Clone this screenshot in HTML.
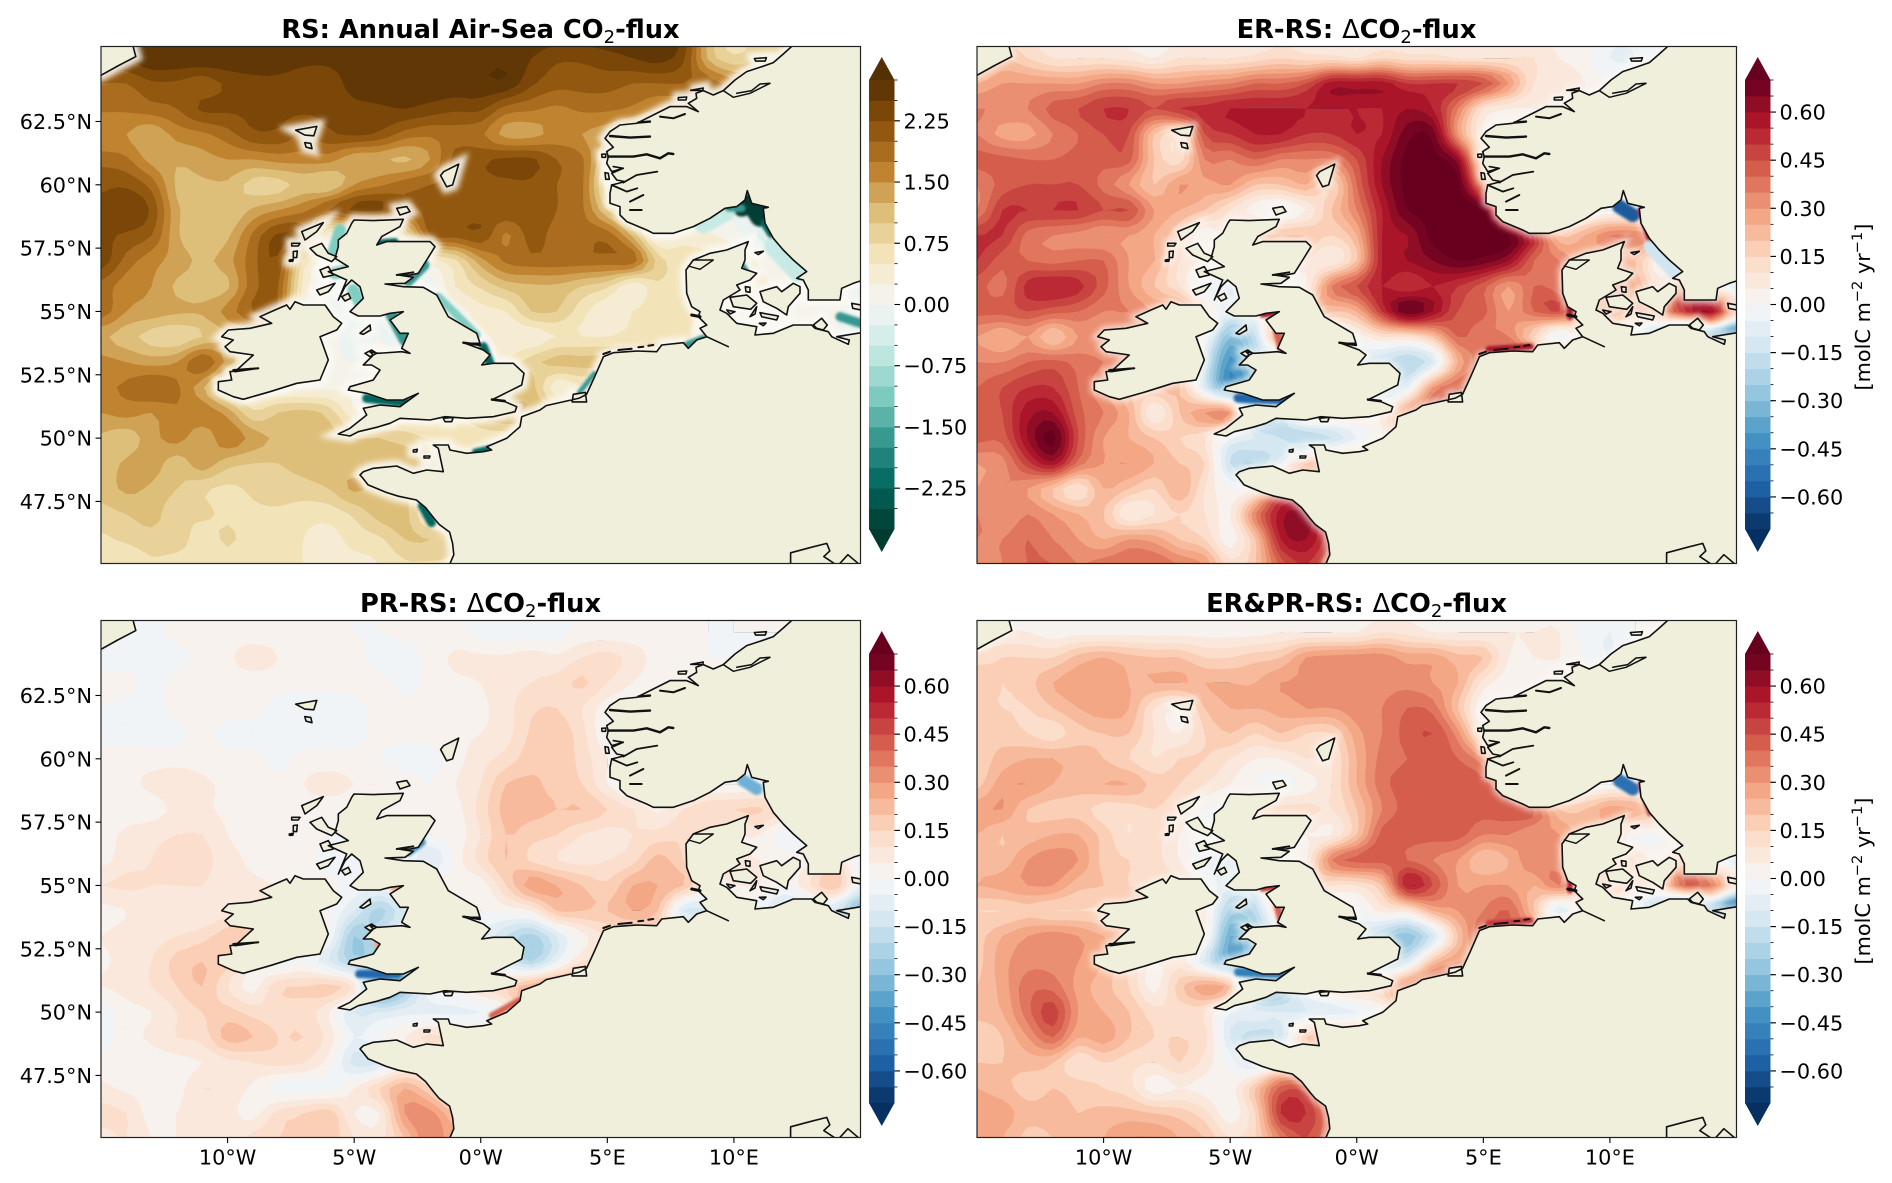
<!DOCTYPE html>
<html lang="en">
<head>
<meta charset="utf-8">
<title>Annual Air-Sea CO2-flux maps</title>
<style>
html,body{margin:0;padding:0;background:#fff}
svg{display:block}
text{font-family:"DejaVu Sans","Liberation Sans",sans-serif;fill:#000}
.title{font-size:25.7px;font-weight:bold;text-anchor:middle}
.thin{font-weight:normal}
.tick{font-size:20.8px}
</style>
</head>
<body>
<svg id="chart" xmlns="http://www.w3.org/2000/svg" width="1892" height="1183" viewBox="0 0 1892 1183">
<defs>
<filter id="soft1" x="-10%" y="-10%" width="120%" height="120%"><feGaussianBlur stdDeviation="1.4"/></filter>
<filter id="soft4" x="-10%" y="-10%" width="120%" height="120%"><feGaussianBlur stdDeviation="3"/></filter>
</defs>
<rect width="1892" height="1183" fill="#fff"/>
<text class="title" x="480.5" y="38">RS: Annual Air-Sea CO<tspan dy="5" font-size="18" class="thin">2</tspan><tspan dy="-5">-flux</tspan></text>
<text class="title" x="1356.5" y="38">ER-RS: <tspan class="thin">Δ</tspan>CO<tspan dy="5" font-size="18" class="thin">2</tspan><tspan dy="-5">-flux</tspan></text>
<text class="title" x="480.5" y="612">PR-RS: <tspan class="thin">Δ</tspan>CO<tspan dy="5" font-size="18" class="thin">2</tspan><tspan dy="-5">-flux</tspan></text>
<text class="title" x="1356.5" y="612">ER&amp;PR-RS: <tspan class="thin">Δ</tspan>CO<tspan dy="5" font-size="18" class="thin">2</tspan><tspan dy="-5">-flux</tspan></text>
<text class="tick" text-anchor="middle" transform="translate(1870 307) rotate(-90)">[molC m<tspan dy="-8" font-size="14.6">−2</tspan><tspan dy="8"> yr</tspan><tspan dy="-8" font-size="14.6">−1</tspan><tspan dy="8">]</tspan></text>
<text class="tick" text-anchor="middle" transform="translate(1870 881) rotate(-90)">[molC m<tspan dy="-8" font-size="14.6">−2</tspan><tspan dy="8"> yr</tspan><tspan dy="-8" font-size="14.6">−1</tspan><tspan dy="8">]</tspan></text>
<g id="layers"></g>
</svg>
<script>
const lons=[-15,-14,-13,-12,-11,-10,-9,-8,-7,-6,-5,-4,-3,-2,-1,0,1,2,3,4,5,6,7,8,9,10,11,12,13,14,15];
const lats=[66,65,64,63,62,61,60,59,58,57,56,55,54,53,52,51,50,49,48,47,46,45];
const latTicks=[62.5,60,57.5,55,52.5,50,47.5];
const latTickLabels=["62.5°N","60°N","57.5°N","55°N","52.5°N","50°N","47.5°N"];
const lonTicks=[-10,-5,0,5,10];
const lonTickLabels=["10°W","5°W","0°W","5°E","10°E"];
const fluxLevels=[-2.75,-2.5,-2.25,-2,-1.75,-1.5,-1.25,-1,-.75,-.5,-.25,0,.25,.5,.75,1,1.25,1.5,1.75,2,2.25,2.5,2.75];
const fluxTicks=[2.25,1.5,.75,0,-.75,-1.5,-2.25];
const fluxTickLabels=["2.25","1.50","0.75","0.00","−0.75","−1.50","−2.25"];
const deltaLevels=[-.7,-.65,-.6,-.55,-.5,-.45,-.4,-.35,-.3,-.25,-.2,-.15,-.1,-.05,0,.05,.1,.15,.2,.25,.3,.35,.4,.45,.5,.55,.6,.65,.7];
const deltaTicks=[.6,.45,.3,.15,0,-.15,-.3,-.45,-.6];
const deltaTickLabels=["0.60","0.45","0.30","0.15","0.00","−0.15","−0.30","−0.45","−0.60"];

const rsFlux=[
[2.3,2.4,2.6,2.7,2.7,2.7,2.7,2.7,2.7,2.7,2.7,2.7,2.7,2.7,2.7,2.7,2.7,2.7,2.7,2.7,2.7,2.7,2.7,2.5,1.2,.6,.8,1,1,1,1],
[2.4,2.5,2.7,2.7,2.7,2.7,2.7,2.7,2.6,2.6,2.7,2.7,2.7,2.7,2.7,2.7,2.7,2.5,2.3,2.3,2.4,2.5,2.6,2.3,1.2,.8,1,1,1,1,1],
[2,2,2.2,2.2,2.1,2.3,2.4,2.4,2.3,2.3,2.65,2.7,2.7,2.7,2.7,2.7,2.7,2.3,2.1,2.1,2.1,2,2,2,1.9,1.6,1.5,1.5,1.5,1.5,1.5],
[1.8,1.8,1.9,2,2.3,2.3,2.3,2.3,2.3,2.3,2.4,2.45,2.5,2.4,2.3,2.3,1.9,1.8,1.7,1.8,1.8,1.7,1.5,1.5,1.5,1.5,1.5,1.5,1.5,1.5,1.5],
[1.5,1.5,1.3,1.6,1.7,1.9,2.2,2.2,2,2.2,2.3,2.2,1.9,1.8,1.9,1.8,1.4,1.4,1.6,1.5,1.3,1,1,1,1,1,1,1,1,1,1],
[1.9,1.8,1.4,1.3,1.4,1.5,1.5,1.6,1.6,1.6,1.3,1.3,1.2,1.5,2.1,2.2,2.3,2.3,2,1.8,.9,.6,.6,.6,.6,.6,.6,.6,.6,.6,.6],
[2.2,2.2,1.9,1.2,1.2,1.2,.9,.9,1.1,1,1.5,1.7,1.9,2,2.1,2.2,2.2,2.2,2,1.8,.6,.4,.4,.4,.4,.4,.4,.4,.4,.4,.4],
[2.3,2.5,2.2,1.3,1.1,1,1.3,1.5,1.7,2,2.3,2.3,1.9,2.1,2.1,2.2,2.2,2.2,2,1.8,1,.5,.2,0,0,0,0,0,0,0,0],
[2.3,2.2,2,1.3,1,1.2,1.8,2.3,2,.3,.3,.3,.7,2,2.1,2.2,1.7,2.1,1.9,1.9,1.9,1.2,.2,.4,.3,.1,-.3,-.5,-.5,-.5,-.5],
[2.4,1.9,1.6,1.4,1.2,1.4,1.9,2.2,.7,.1,.1,.1,.2,.4,.7,1.4,1.8,1.9,1.9,1.9,1.9,1.9,.9,.6,.6,.5,.2,0,-.1,-.1,-.1],
[1.9,1.6,1.5,1.2,1.1,1.2,1.9,2,.4,0,-.1,0,0,-.1,.5,.8,1.1,1.2,1.2,1,.8,.3,.7,.6,.5,.5,.3,.2,.2,.1,-.1],
[1.9,1.5,1.4,1.3,1.3,1.6,2,1.9,.3,0,0,0,0,0,.1,.4,.5,1,1,.6,.3,.5,.7,.7,.3,.3,.2,.2,.2,.1,-.2],
[1.3,1.1,.9,.8,1,1.2,1.2,1,.6,.1,-.1,0,-.2,-.1,0,.2,.3,.3,.5,.5,.5,.6,.7,.6,.2,.2,.2,.1,.1,0,-.4],
[1.6,1.5,1.4,1.5,2,1.4,.9,.6,.3,.1,0,.1,.1,0,0,0,.5,.9,1.1,1.1,1.1,1,.9,.8,.5,.5,.5,.5,.5,.5,.5],
[1.7,1.8,2,1.8,1.3,.6,.5,.3,.2,.2,.2,.2,.1,.1,0,.3,.9,1.1,.3,.5,.5,.5,.5,.5,.5,.5,.5,.5,.5,.5,.5],
[1.5,1.6,1.5,1.7,1.7,1.4,.8,1,1.1,.9,.3,.1,.3,.4,.5,1,1.3,1.2,1,1,1,1,1,1,1,1,1,1,1,1,1],
[1.2,1.1,1.4,1.6,1.3,1.7,1.4,1.2,1.2,1.1,1,1,.9,.7,.6,.6,.6,.6,.6,.6,.6,.6,.6,.6,.6,.6,.6,.6,.6,.6,.6],
[1.1,1.3,1.4,1.1,1.4,1.1,1,1,1.1,1.2,1.1,1,1.1,1.2,1,1,1,1,1,1,1,1,1,1,1,1,1,1,1,1,1],
[1.1,1.3,1.2,1,.8,.7,.8,.9,.9,1,1.3,1.1,1,1,1,1,1,1,1,1,1,1,1,1,1,1,1,1,1,1,1],
[.9,1,1.1,.8,.8,.7,.7,.7,.6,.6,.8,1.1,1.1,.4,.4,.4,.4,.4,.4,.4,.4,.4,.4,.4,.4,.4,.4,.4,.4,.4,.4],
[.7,.8,.9,.9,.6,.8,.6,.7,.5,.4,.6,.7,1,1,.8,.8,.8,.8,.8,.8,.8,.8,.8,.8,.8,.8,.8,.8,.8,.8,.8],
[.6,.5,.7,.6,.6,.6,.6,.5,.5,.4,.4,.5,.7,.7,.7,.7,.7,.7,.7,.7,.7,.7,.7,.7,.7,.7,.7,.7,.7,.7,.7]
];
const erDelta=[
[.1,.15,.1,.08,.08,.08,.05,.03,.05,.05,.05,.05,.08,.08,.08,.05,.08,.08,.08,.05,.05,.05,.05,.03,.02,-.03,-.03,0,0,0,0],
[.1,.2,.15,.1,.1,.1,.08,.05,.1,.1,.1,.12,.15,.12,.12,.1,.15,.12,.12,.1,.1,.1,.1,.05,.02,-.05,-.05,0,0,0,0],
[.25,.3,.3,.3,.3,.35,.35,.3,.3,.33,.35,.4,.4,.45,.58,.58,.58,.5,.5,.5,.45,.3,.1,.1,.05,0,0,0,0,0,0],
[.35,.35,.35,.42,.45,.5,.5,.45,.5,.52,.55,.55,.55,.55,.55,.55,.55,.6,.55,.35,.1,.05,.05,.05,.05,.05,.05,.05,.05,.05,.05],
[.35,.28,.28,.35,.4,.45,.45,.2,.15,.45,.5,.55,.55,.5,.5,.55,.55,.68,.68,.3,.05,.05,.05,.05,.05,.05,.05,.05,.05,.05,.05],
[.42,.42,.4,.4,.42,.42,.42,.2,.12,.35,.35,.4,.35,.35,.35,.45,.6,.72,.72,.62,.1,.05,.05,.05,.05,.05,.05,.05,.05,.05,.05],
[.35,.42,.45,.45,.45,.38,.3,.2,.3,.28,.3,.2,.2,.25,.15,.4,.6,.72,.74,.72,.3,0,0,0,0,0,0,0,0,0,0],
[.35,.5,.5,.5,.5,.45,.45,.3,.25,.2,.1,.02,-.02,.05,.2,.35,.55,.7,.72,.75,.7,.2,0,0,0,0,0,0,0,0,0],
[.5,.5,.38,.35,.33,.3,.3,.25,.15,0,.1,.2,.2,.2,.15,.25,.55,.6,.72,.75,.75,.7,.5,.2,.25,.35,.35,.3,.3,.3,.3],
[.5,.42,.4,.38,.4,.4,.3,.25,.1,.05,.1,.1,.1,.1,.05,.2,.55,.6,.65,.7,.68,.6,.4,.35,.25,.2,.2,0,0,0,0],
[.42,.38,.52,.55,.52,.42,.3,.2,.1,-.05,-.1,0,0,.05,.35,.45,.55,.5,.55,.5,.42,.3,.4,.35,.1,.3,.25,.1,.3,.1,-.1],
[.42,.42,.45,.42,.4,.35,.35,.3,.3,.1,-.1,-.05,.3,.3,.2,.25,.5,.7,.6,.45,.42,.3,.4,.45,.3,.25,.2,.3,.5,.6,.2],
[.3,.25,.3,.2,.3,.3,.3,.3,.2,0,-.3,-.15,.3,.1,0,.02,.1,.1,.2,.4,.35,.35,.15,-.05,.1,.1,0,-.3,-.55,-.3,-.6],
[.35,.35,.4,.42,.38,.35,.3,.2,.2,-.1,-.42,-.25,-.2,-.1,-.05,-.1,-.15,-.2,-.1,.25,.4,.5,.5,.5,.5,.5,.5,.5,.5,.5,.5],
[.4,.45,.5,.5,.4,.3,.2,.2,.2,-.1,-.4,-.35,-.3,0,0,.05,-.15,-.05,.3,.4,.4,.4,.4,.4,.4,.4,.4,.4,.4,.4,.4],
[.4,.45,.58,.6,.42,.35,.25,.05,.2,.3,.3,-.3,-.2,.1,.1,.1,.05,.3,.4,.4,.4,.4,.4,.4,.4,.4,.4,.4,.4,.4,.4],
[.42,.42,.6,.72,.45,.3,.25,.2,.15,.1,-.05,-.1,-.15,-.2,-.15,-.05,.05,.25,.25,.25,.25,.25,.25,.25,.25,.25,.25,.25,.25,.25,.25],
[.3,.33,.48,.58,.38,.3,.3,.25,.2,.15,-.15,-.2,-.05,.2,.25,.25,.25,.25,.25,.25,.25,.25,.25,.25,.25,.25,.25,.25,.25,.25,.25],
[.3,.35,.3,.2,.1,.25,.2,.15,.25,.1,0,.05,.4,.4,.4,.4,.4,.4,.4,.4,.4,.4,.4,.4,.4,.4,.4,.4,.4,.4,.4],
[.35,.3,.35,.3,.25,.2,.05,.1,.15,.1,.05,.35,.58,.62,.45,.45,.45,.45,.45,.45,.45,.45,.45,.45,.45,.45,.45,.45,.45,.45,.45],
[.35,.35,.4,.35,.3,.25,.3,.28,.2,.15,.02,.2,.55,.6,.45,.4,.4,.4,.4,.4,.4,.4,.4,.4,.4,.4,.4,.4,.4,.4,.4],
[.3,.35,.4,.4,.35,.38,.4,.4,.35,.3,.12,.2,.42,.5,.4,.4,.4,.4,.4,.4,.4,.4,.4,.4,.4,.4,.4,.4,.4,.4,.4]
];
const prDelta=[
[-.03,-.03,-.02,.02,.02,.02,.02,.02,.02,.02,0,0,.02,.02,.02,-.02,-.03,-.03,-.02,.02,.02,.02,.02,.02,0,0,0,0,0,0,0],
[-.03,-.03,-.02,.02,.02,.02,.02,.02,.02,.02,0,0,.02,.02,.02,-.02,-.03,-.03,-.02,.02,.02,.02,.02,.02,0,0,0,0,0,0,0],
[-.03,-.03,-.02,-.02,.02,.04,.08,.05,.02,.02,.02,-.03,-.03,.02,.06,.06,.06,.08,.06,.1,.12,.08,.03,.02,0,0,0,0,0,0,0],
[.02,.02,-.02,.02,.02,.02,.02,.02,.02,.02,.02,.02,-.02,.02,.04,.05,.08,.1,.12,.16,.1,.05,.02,.02,.02,.02,.02,.02,.02,.02,.02],
[0,-.02,-.02,.02,.02,.02,.02,-.02,-.04,-.04,-.02,.02,.02,.02,.03,.04,.08,.14,.15,.1,.02,0,0,0,0,0,0,0,0,0,0],
[-.02,-.03,-.03,-.02,.02,-.02,-.02,-.02,-.03,-.03,-.02,.02,.02,.02,.04,.05,.08,.16,.18,.12,0,0,0,0,0,0,0,0,0,0,0],
[.02,.03,.03,.03,.03,.02,.02,-.02,.02,.02,.02,0,-.03,-.02,.03,.08,.12,.18,.19,.13,.05,0,0,0,0,0,0,0,0,0,0],
[.03,.04,.06,.08,.06,.04,.03,.02,.05,.07,.05,.05,.03,0,.05,.1,.2,.21,.18,.15,.05,-.03,0,0,0,0,0,0,0,0,0],
[.04,.03,.03,.06,.06,.04,.04,.04,.03,.02,.02,.02,.02,.02,.03,.12,.22,.22,.2,.2,.15,.1,.04,.1,.14,.15,.16,.1,.1,.1,.1],
[.03,.06,.08,.1,.1,.05,.03,.03,.03,0,0,0,0,0,.02,.1,.2,.17,.15,.1,.08,.1,.12,.14,.1,.05,.05,-.03,-.03,-.03,-.03],
[.03,.08,.1,.13,.12,.07,.04,.02,.02,-.03,-.03,0,0,-.1,.02,.12,.2,.14,.1,.08,.1,.13,.22,.15,.05,.05,.05,.02,.03,.08,-.02],
[.1,.11,.1,.1,.1,.06,.06,.05,.04,.02,-.02,-.02,.03,.03,.02,.02,.15,.28,.25,.2,.16,.25,.25,.2,.05,.05,.05,0,.1,.2,-.05],
[.03,.05,.08,.06,.05,.08,.08,.08,.06,0,-.1,-.22,-.1,-.05,0,0,.02,.05,.2,.2,.2,.25,.2,-.1,-.1,-.05,-.03,-.12,-.1,-.12,-.3],
[.05,.07,.08,.1,.13,.18,.2,.1,.05,0,-.25,-.15,-.05,-.05,-.05,-.05,-.15,-.22,-.1,.03,.1,.1,.1,.1,.1,.1,.1,.1,.1,.1,.1],
[.04,.07,.1,.17,.2,.17,.07,-.03,0,-.1,-.22,-.25,-.2,0,0,0,-.1,-.2,-.05,.1,.1,.1,.1,.1,.1,.1,.1,.1,.1,.1,.1],
[.05,.07,.1,.15,.2,.1,.03,.14,.15,.17,.08,-.4,-.25,0,.02,.1,.15,.25,.3,.3,.3,.3,.3,.3,.3,.3,.3,.3,.3,.3,.3],
[-.03,.03,.05,.1,.15,.17,.13,.12,.13,.05,-.1,-.1,-.07,-.06,-.06,-.05,.02,.25,.2,.2,.2,.2,.2,.2,.2,.2,.2,.2,.2,.2,.2],
[-.03,.03,.06,.1,.12,.22,.2,.15,.15,.08,-.05,0,.05,.12,.08,.08,.08,.08,.08,.08,.08,.08,.08,.08,.08,.08,.08,.08,.08,.08,.08],
[.03,.02,.02,.03,.05,.08,.1,.12,.1,.03,-.12,-.1,.02,.02,.02,.02,.02,.02,.02,.02,.02,.02,.02,.02,.02,.02,.02,.02,.02,.02,.02],
[.06,.04,.03,.03,.1,.08,.04,-.02,-.02,-.02,.05,.15,.25,.15,0,0,0,0,0,0,0,0,0,0,0,0,0,0,0,0,0],
[.12,.1,.03,.05,.08,.07,.03,.12,.15,.18,.05,.05,.3,.32,.2,.2,.2,.2,.2,.2,.2,.2,.2,.2,.2,.2,.2,.2,.2,.2,.2],
[.08,.1,.05,.05,.08,.07,.12,.15,.15,.18,.1,.08,.2,.35,.25,.25,.25,.25,.25,.25,.25,.25,.25,.25,.25,.25,.25,.25,.25,.25,.25]
];
const erprDelta=[
[.02,.03,.03,.02,.02,.02,.02,.02,.02,.02,.02,.02,.03,.03,.03,.03,.05,.05,.03,.03,.03,.03,.03,.03,-.02,-.03,0,0,0,0,0],
[.02,.05,.05,.02,.03,.03,.03,.03,.03,.03,.03,.03,.05,.05,.05,.05,.1,.08,.05,.05,.05,.05,.05,.05,-.02,-.05,0,0,0,0,0],
[.12,.15,.15,.15,.22,.25,.22,.2,.2,.15,.15,.18,.2,.3,.32,.33,.33,.28,.28,.22,.2,.05,.05,.05,0,-.05,0,0,0,0,0],
[.2,.15,.18,.25,.28,.28,.25,.25,.25,.25,.25,.25,.3,.3,.32,.32,.33,.33,.3,.25,.08,.02,.02,.02,.02,.02,.02,.02,.02,.02,.02],
[.15,.15,.15,.2,.25,.28,.25,.1,.05,.2,.25,.25,.27,.3,.3,.33,.35,.4,.38,.2,0,0,0,0,0,0,0,0,0,0,0],
[.2,.18,.15,.12,.18,.2,.2,.1,.05,.15,.2,.15,.2,.15,.15,.28,.35,.42,.45,.32,.05,0,0,0,0,0,0,0,0,0,0],
[.17,.22,.25,.25,.23,.2,.15,.1,.15,.15,.1,.05,.05,.1,.1,.25,.37,.4,.42,.4,.3,0,0,0,0,0,0,0,0,0,0],
[.18,.28,.3,.25,.22,.25,.25,.18,.15,.1,.05,0,-.02,.02,.1,.25,.38,.42,.42,.42,.42,.3,.02,0,0,0,0,0,0,0,0],
[.28,.3,.2,.18,.18,.12,.12,.15,.1,0,0,.1,.12,.12,.1,.2,.35,.42,.42,.42,.42,.42,.4,.2,.2,.28,.25,.2,.2,.2,.2],
[.25,.2,.22,.25,.25,.18,.1,.12,.05,0,.05,.05,.05,.05,.05,.2,.42,.42,.42,.42,.35,.35,.3,.3,.2,.15,0,0,0,0,0],
[.22,.22,.3,.33,.3,.18,.15,.12,.05,-.05,-.08,0,0,.05,.35,.42,.42,.4,.35,.3,.2,.25,.35,.3,.1,.15,.1,.05,.2,.05,-.1],
[.25,.27,.3,.3,.22,.2,.15,.15,.12,.02,-.1,-.05,.2,.2,.1,.1,.2,.55,.45,.3,.3,.3,.25,.35,.2,.15,.1,.15,.4,.35,.1],
[.15,.15,.18,.15,.15,.15,.2,.2,.15,.05,-.22,-.18,.15,.05,0,-.02,.07,.08,.25,.3,.35,.4,.2,-.1,.1,.1,-.05,-.3,-.5,-.25,-.65],
[.18,.25,.3,.33,.3,.25,.22,.2,.15,.05,-.35,-.25,-.2,-.1,-.05,-.08,-.2,-.28,-.12,.2,.4,.4,.4,.4,.4,.4,.4,.4,.4,.4,.4],
[.18,.28,.33,.33,.3,.25,.15,.05,.08,-.1,-.32,-.32,-.3,-.02,0,-.02,-.15,-.1,.2,.3,.3,.3,.3,.3,.3,.3,.3,.3,.3,.3,.3],
[.2,.27,.38,.38,.28,.22,.15,.03,.18,.28,.2,-.35,-.3,0,.1,.15,.15,.35,.45,.45,.45,.45,.45,.45,.45,.45,.45,.45,.45,.45,.45],
[.22,.25,.38,.48,.3,.25,.2,.12,.12,.1,-.05,-.08,-.1,-.1,-.08,-.05,.03,.3,.3,.3,.3,.3,.3,.3,.3,.3,.3,.3,.3,.3,.3],
[.15,.2,.3,.4,.25,.28,.2,.15,.15,.12,-.1,-.18,-.12,.2,.25,.25,.25,.25,.25,.25,.25,.25,.25,.25,.25,.25,.25,.25,.25,.25,.25],
[.2,.2,.22,.2,.1,.15,.12,.1,.15,.08,-.02,-.12,.1,.1,.1,.1,.1,.1,.1,.1,.1,.1,.1,.1,.1,.1,.1,.1,.1,.1,.1],
[.25,.22,.18,.2,.18,.15,.12,.02,.05,.03,.02,.2,.42,.42,.2,.2,.2,.2,.2,.2,.2,.2,.2,.2,.2,.2,.2,.2,.2,.2,.2],
[.28,.28,.22,.22,.2,.22,.22,.2,.18,.12,.02,.15,.5,.5,.35,.35,.35,.35,.35,.35,.35,.35,.35,.35,.35,.35,.35,.35,.35,.35,.35],
[.25,.25,.18,.2,.22,.25,.3,.3,.25,.2,.1,.15,.35,.45,.35,.35,.35,.35,.35,.35,.35,.35,.35,.35,.35,.35,.35,.35,.35,.35,.35]
];

/* Coastline outlines are traced on three tracing sheets; sheetLon/sheetLat turn them into lon/lat. */
const OV={x0:0,y0:0,kx:1.657,ky:2.65};
const NO={x0:560,y0:60,kx:3,ky:3};
const UK={x0:200,y0:190,kx:3,ky:3};
const landTraces=[
[[NO,[700,-45,670,-18,640,8,600,22,560,35,525,60,490,92,460,105,430,92,408,100,410,115,385,130,415,155,380,140,330,140,280,165,230,190,180,195,150,215,135,235,160,262,140,275,145,290,140,310,155,335,190,325,155,340,170,360,195,365,155,375,150,400,150,430,180,440,180,465,200,485,260,510,280,520,340,520,400,500,450,475,495,445,530,440,555,420,562,392,575,430,625,442,610,445,615,490,640,535,670,570,700,600,740,635,710,655,730,660,745,690,745,720,840,720,845,685,880,670,904,662,904,-45]]],
[[OV,[745,1496,752,1470,750,1440,745,1410,728,1390,720,1375,705,1345,690,1325,660,1315,640,1305,610,1285,600,1265]],
 [UK,[480,855,490,845,520,835,590,828,640,850,680,840,730,845,715,775,700,765,745,765,750,780,800,790,850,785,875,780,860,770,920,745,960,710,965,680,1020,660]],
 [OV,[905,1075,960,1055,972,1045,985,1000,1000,945]],
 [NO,[160,878,230,873,290,875,305,855,370,848,385,865,410,840,440,830,505,860,440,830,420,805,440,795,415,770,420,755,395,740,380,700,378,630,400,600,450,580,500,570,565,545,555,570,555,600,545,625,590,640,570,660,530,675,540,690,490,720,480,750,500,760,530,790,590,800,585,825,640,820,700,795,755,795,765,805,805,815,815,830,865,853,868,840,830,830,904,818]],
 [OV,[1427,1496]]],
[[UK,[462,90,520,92,610,88,600,110,545,140,530,165,560,155,690,155,705,170,680,210,655,250,630,255,595,255,640,262,615,280,555,282,610,290,670,292,710,315,745,380,830,430,840,460,795,460,850,480,870,495,845,525,880,520,940,520,972,550,965,585,925,605,875,630,915,635,950,650,945,665,880,680,800,685,735,680,690,690,600,685,570,700,530,712,475,725,450,738,415,732,450,715,500,675,490,655,540,645,600,650,655,610,610,630,560,630,500,610,445,600,450,590,520,570,540,540,515,525,490,525,520,495,510,485,535,490,605,485,630,490,605,475,625,430,600,430,570,390,610,365,570,370,540,378,475,378,450,365,490,325,480,290,455,270,435,290,415,330,440,270,385,245,445,230,405,205,415,170,415,150,440,130,455,100]]],
[[UK,[85,420,150,415,215,400,180,380,225,360,260,345,270,358,285,335,310,345,375,345,400,380,425,400,410,420,360,440,385,510,360,570,290,580,210,605,130,628,100,620,55,600,55,575,95,570,90,545,175,535,105,545,160,495,90,485,75,470,100,450,65,440]]],
[[OV,[167,200,195,175,225,150,220,120,163,120,163,200]]],
[[OV,[1310,1496,1310,1465,1345,1450,1370,1440,1375,1460,1365,1475,1385,1496]]],
[[OV,[1390,1496,1405,1470,1424,1496]]],
[[NO,[510,712,560,705,590,730,572,748,520,740]]],
[[NO,[600,695,650,680,665,695,700,670,720,680,720,700,685,740,680,765,650,745,610,725]]],
[[NO,[600,758,655,768,650,780,605,770]]],
[[NO,[556,680,570,682,570,697,558,695]]],
[[NO,[500,750,525,755,510,762]]],
[[NO,[570,770,590,740,585,762]]],
[[NO,[585,578,610,574,595,584]]],
[[NO,[760,795,785,775,802,795,790,810,770,805]]],
[[NO,[875,730,902,735,902,750,878,745]]],
[[NO,[598,790,618,789,610,797]]],
[[NO,[135,338,145,340,148,358,137,358]]],
[[NO,[125,283,137,282,137,292,126,292]]],
[[NO,[355,113,380,111,378,120,355,120]]],
[[NO,[392,91,430,84,428,92]]],
[[UK,[305,125,370,98,350,125,315,150]]],
[[UK,[275,160,300,160,295,168,275,168]]],
[[UK,[280,185,292,183,290,203,280,203]]],
[[UK,[268,210,280,208,278,214,268,214]]],
[[UK,[330,175,365,160,385,190,410,200,395,215,350,195]]],
[[UK,[360,240,385,230,400,255,370,262]]],
[[UK,[350,300,405,280,385,305,360,315]]],
[[UK,[425,320,445,310,452,325,435,333]]],
[[UK,[480,430,510,405,512,420,490,433]]],
[[UK,[495,490,515,480,530,490,510,500]]],
[[UK,[590,55,620,50,630,65,600,75]]],
[[UK,[730,685,760,682,755,695,735,695]]],
[[UK,[640,780,652,778,650,786,640,786]]],
[[UK,[672,798,690,798,688,804,672,804]]],
[[OV,[735,455,760,435,750,490,740,495,730,465]]],
[[OV,[490,345,525,335,520,360,505,358]]],
[[OV,[505,378,515,380,517,394,507,390]]],
[[OV,[1250,155,1270,153,1268,162,1252,162]]],
[[OV,[950,1045,970,1040,972,1065,948,1065]]]
];
const fjordTraces=[
[NO,[150,228,210,233,270,230],2.4],[NO,[145,290,220,290,260,283,300,295,325,280,340,282],2.4],[NO,[235,188,270,185],2.4],
[NO,[300,170,340,175,375,162],2],[NO,[190,368,230,345,292,335],1.8],[NO,[155,375,200,395,232,385],1.8],[NO,[160,320,190,325],1.6],
[NO,[210,425,250,405],2],[NO,[210,450,245,450],2],[NO,[490,92,520,112,570,100,630,70,600,72,575,92,530,100],1.5],
[NO,[385,618,420,628,460,600,400,600],1.4],[NO,[130,882,150,875],2],[NO,[175,870,215,866],2],[NO,[235,862,250,860],2],[NO,[265,857,280,855],2],
[NO,[395,765,420,770],3],[UK,[100,540,175,535],2],[UK,[790,458,840,465],2.4],[UK,[590,255,640,247],2],[UK,[875,628,915,632],2]
];
/* nearshore detail narrower than the value grid: [colour, width, sheet, trace] */
const rsCoastal=[
["#003c30",20,NO,[545,440,575,430,600,470]],["#01665e",9,NO,[615,490,650,545,735,630]],["#c7eae5",20,NO,[495,455,430,490]],["#c7eae5",18,NO,[640,560,715,640]],
["#35978f",7,NO,[505,445,545,445]],["#01665e",7,UK,[530,160,585,155]],["#35978f",12,UK,[625,270,670,225]],["#80cdc1",8,UK,[715,320,830,435]],["#01665e",9,UK,[850,470,870,520]],
["#01665e",9,UK,[500,625,640,640]],["#35978f",12,UK,[575,375,615,450]],["#35978f",5,OV,[960,1040,985,990]],["#01665e",6,UK,[825,785,870,775]],
["#01665e",9,OV,[700,1340,715,1385]],["#35978f",7,NO,[380,855,430,835]],["#35978f",9,NO,[840,770,902,790]],["#80cdc1",12,UK,[420,120,400,190]],["#80cdc1",12,UK,[405,250,445,240]],["#80cdc1",12,UK,[460,300,480,340]],["#35978f",5,NO,[545,610,560,635]]
];
const erCoastal=[
["#1a5a9c",14,NO,[550,440,590,465]],["#a81529",5,NO,[612,450,640,540]],["#a81529",6,OV,[1150,790,1150,840]],["#a81529",6,OV,[1015,925,1085,918]],
["#b2182b",5,OV,[640,835,670,830]],["#d6604d",8,OV,[665,880,672,925]],["#f4a582",6,OV,[625,955,635,990]],["#2166ac",9,OV,[600,1055,680,1060]],["#d1e5f0",12,NO,[640,560,715,640]]
];
const prCoastal=[
["#6fb0d5",12,NO,[550,440,590,465]],["#d6604d",6,OV,[860,1130,815,1170]],["#2166ac",8,OV,[595,1060,660,1060]],["#4393c3",8,UK,[625,265,665,235]],["#f4a582",6,OV,[625,955,625,985]],["#f4a582",4,OV,[650,835,668,830]]
];
const erprCoastal=[
["#2a6fb3",13,NO,[550,440,590,465]],["#d6604d",5,NO,[612,450,640,540]],["#b2182b",5,OV,[1150,790,1150,840]],["#c53a3a",6,OV,[1015,925,1085,918]],
["#c53a3a",5,OV,[640,835,670,830]],["#d6604d",7,OV,[665,880,672,925]],["#f4a582",6,OV,[625,955,635,990]],["#2f7fba",8,OV,[600,1055,680,1060]]
];

const rdBuAnchors=["053061","2166ac","4393c3","92c5de","d1e5f0","f7f7f7","fddbc7","f4a582","d6604d","b2182b","67001f"];
const brBgAnchors=["003c30","01665e","35978f","80cdc1","c7eae5","f5f5f5","f6e8c3","dfc27d","bf812d","8c510a","543005"];
const NS="http://www.w3.org/2000/svg";
const layers=document.getElementById("layers");
const panels=[
{key:"rs",left:101,top:46.5,grid:rsFlux,levels:fluxLevels,anchors:brBgAnchors,ticks:fluxTicks,tickLabels:fluxTickLabels,coastal:rsCoastal,glowW:12,glowO:.9,yAxis:true,xAxis:false},
{key:"er-rs",left:977,top:46.5,grid:erDelta,levels:deltaLevels,anchors:rdBuAnchors,ticks:deltaTicks,tickLabels:deltaTickLabels,coastal:erCoastal,glowW:8,glowO:.65,yAxis:false,xAxis:false},
{key:"pr-rs",left:101,top:620.5,grid:prDelta,levels:deltaLevels,anchors:rdBuAnchors,ticks:deltaTicks,tickLabels:deltaTickLabels,coastal:prCoastal,glowW:0,glowO:0,yAxis:true,xAxis:true},
{key:"erpr-rs",left:977,top:620.5,grid:erprDelta,levels:deltaLevels,anchors:rdBuAnchors,ticks:deltaTicks,tickLabels:deltaTickLabels,coastal:erprCoastal,glowW:8,glowO:.6,yAxis:false,xAxis:true}
];
const W=759.5,H=517,LAT_TOP=65.46,LAT_BOT=45.05,LON_L=-15,LON_R=15;

function sheetLon(s,t){return -15+((s.x0+t/s.kx)-101)/25.317;}
function sheetLat(s,t){return 62.5-((s.y0+t/s.ky)-121.5)/25.33;}
function make(tag,attrs,parent){
  const e=document.createElementNS(NS,tag);
  for(const k in attrs)e.setAttribute(k,attrs[k]);
  parent.appendChild(e);
  return e;
}
function cmap(anchors,t){
  t=Math.max(0,Math.min(1,t));
  const p=t*(anchors.length-1),i=Math.min(anchors.length-2,Math.floor(p)),f=p-i;
  const a=anchors[i],b=anchors[i+1],c=[0,2,4].map(function(s){
    const u=parseInt(a.substr(s,2),16),v=parseInt(b.substr(s,2),16);
    return Math.round(u+(v-u)*f);
  });
  return "rgb("+c.join(",")+")";
}
function catmull(a,b,c,d,t){
  return .5*(2*b+(c-a)*t+(2*a-5*b+4*c-d)*t*t+(3*b-a-3*c+d)*t*t*t);
}
function refine(grid,k){
  const rows=grid.length,cols=grid[0].length,out=[];
  const at=function(r,c){
    const R=Math.max(0,Math.min(rows-1,r)),C=Math.max(0,Math.min(cols-1,c)),row=grid[R];
    return row[Math.min(row.length-1,C)];
  };
  for(let r=0;r<=(rows-1)*k;r++){
    const r0=Math.floor(r/k),tr=r/k-r0,line=[];
    for(let c=0;c<=(cols-1)*k;c++){
      const c0=Math.floor(c/k),tc=c/k-c0,col=[];
      for(let j=-1;j<3;j++){
        col.push(catmull(at(r0+j,c0-1),at(r0+j,c0),at(r0+j,c0+1),at(r0+j,c0+2),tc));
      }
      line.push(catmull(col[0],col[1],col[2],col[3],tr));
    }
    out.push(line);
  }
  return out;
}
function clipQuad(q,t){
  const out=[];
  for(let i=0;i<q.length;i++){
    const a=q[i],b=q[(i+1)%q.length],ia=a[2]>=t,ib=b[2]>=t;
    if(ia)out.push(a);
    if(ia!==ib){
      const f=(t-a[2])/(b[2]-a[2]);
      out.push([a[0]+(b[0]-a[0])*f,a[1]+(b[1]-a[1])*f,t]);
    }
  }
  return out;
}
function bandPath(fine,xS,yS,t,next){
  const parts=[];
  for(let r=0;r<fine.length-1;r++){
    const y0=yS(lats[0]+(lats[lats.length-1]-lats[0])*r/(fine.length-1));
    const y1=yS(lats[0]+(lats[lats.length-1]-lats[0])*(r+1)/(fine.length-1));
    for(let c=0;c<fine[r].length-1;c++){
      const v=[fine[r][c],fine[r][c+1],fine[r+1][c+1],fine[r+1][c]];
      const mx=Math.max(v[0],v[1],v[2],v[3]),mn=Math.min(v[0],v[1],v[2],v[3]);
      if(mx<t)continue;
      if(next!==null&&mn>=next)continue;
      const x0=xS(lons[0]+(lons[lons.length-1]-lons[0])*c/(fine[r].length-1));
      const x1=xS(lons[0]+(lons[lons.length-1]-lons[0])*(c+1)/(fine[r].length-1));
      const q=[[x0,y0,v[0]],[x1,y0,v[1]],[x1,y1,v[2]],[x0,y1,v[3]]];
      const poly=mn>=t?q:clipQuad(q,t);
      if(poly.length<3)continue;
      parts.push("M"+poly.map(function(p){return p[0].toFixed(1)+" "+p[1].toFixed(1);}).join("L")+"Z");
    }
  }
  return parts.join("");
}
function tracePath(segments,xS,yS,close){
  let d="",first=true;
  segments.forEach(function(seg){
    const s=seg[0],pts=seg[1];
    for(let i=0;i<pts.length;i+=2){
      d+=(first?"M":"L")+xS(sheetLon(s,pts[i])).toFixed(1)+" "+yS(sheetLat(s,pts[i+1])).toFixed(1);
      first=false;
    }
  });
  return d+(close?"Z":"");
}
function drawPanel(p){
  const xS=function(lon){return p.left+(lon-LON_L)/(LON_R-LON_L)*W;};
  const yS=function(lat){return p.top+(LAT_TOP-lat)/(LAT_TOP-LAT_BOT)*H;};
  const g=make("g",{},layers);
  
  
  const defs=make("clipPath",{id:"clip-"+p.key},g);
  make("rect",{x:p.left,y:p.top,width:W,height:H},defs);
  const map=make("g",{"clip-path":"url(#clip-"+p.key+")"},g);
  
  

  const levels=p.levels,n=levels.length-1;
  const base=make("rect",{x:p.left,y:p.top,width:W,height:H,fill:cmap(p.anchors,0)},map);
  
  
  const fine=refine(p.grid,3);
  for(let i=0;i<=n;i++){
    const t=levels[i],next=i<n?levels[i+1]:null;
    const fill=i<n?cmap(p.anchors,(i+.5)/n):cmap(p.anchors,1);
    const band=make("path",{d:bandPath(fine,xS,yS,t,next),fill:fill},map);
    
    
  }
  let landD="";
  landTraces.forEach(function(t){landD+=tracePath(t,xS,yS,true);});
  if(p.glowW){
    const glow=make("path",{d:landD,fill:"none",stroke:"#fbfaf5","stroke-width":p.glowW,opacity:p.glowO,filter:"url(#soft4)"},map);
    
    
  }
  const nearG=make("g",{filter:"url(#soft1)"},map);
  
  
  p.coastal.forEach(function(c){
    const s=make("path",{d:tracePath([[c[2],c[3]]],xS,yS,false),fill:"none",stroke:c[0],"stroke-width":c[1],"stroke-linecap":"round","stroke-linejoin":"round"},nearG);
    
    
  });
  const land=make("path",{d:landD,fill:"#efefdb",stroke:"#111","stroke-width":1.6,"stroke-linejoin":"round"},map);
  
  
  fjordTraces.forEach(function(t){
    const f=make("path",{d:tracePath([[t[0],t[1]]],xS,yS,false),fill:"none",stroke:"#111","stroke-width":t[2],"stroke-linecap":"round","stroke-linejoin":"round"},map);
    
    
  });
  const frame=make("rect",{x:p.left,y:p.top,width:W,height:H,fill:"none",stroke:"#222","stroke-width":1.2},g);
  
  

  if(p.yAxis){
    latTicks.forEach(function(lat,i){
      const y=yS(lat);
      const tk=make("line",{x1:p.left-5.5,x2:p.left,y1:y,y2:y,stroke:"#000","stroke-width":1.1},g);
      
      
      const lb=make("text",{class:"tick",x:p.left-9,y:y+7.5,"text-anchor":"end"},g);
      lb.textContent=latTickLabels[i];
      
      
    });
  }
  if(p.xAxis){
    lonTicks.forEach(function(lon,i){
      const x=xS(lon);
      const tk=make("line",{x1:x,x2:x,y1:p.top+H,y2:p.top+H+5.5,stroke:"#000","stroke-width":1.1},g);
      
      
      const lb=make("text",{class:"tick",x:x,y:p.top+H+27,"text-anchor":"middle"},g);
      lb.textContent=lonTickLabels[i];
      
      
    });
  }
  drawColorbar(p,n);
}
function drawColorbar(p,n){
  const cbL=p.left+768,cbW=25.5,cbT=p.top+33.5,cbH=449,tipH=23;
  const levels=p.levels,lo=levels[0],hi=levels[n];
  const cS=function(v){return cbT+(hi-v)/(hi-lo)*cbH;};
  const g=make("g",{},layers);
  
  
  for(let i=0;i<n;i++){
    const y0=cS(levels[i+1]),y1=cS(levels[i]);
    const r=make("rect",{x:cbL,y:y0,width:cbW,height:y1-y0+.4,fill:cmap(p.anchors,(i+.5)/n)},g);
    
    
    const mt=make("line",{x1:cbL+cbW,x2:cbL+cbW+3,y1:y0,y2:y0,stroke:"#000","stroke-width":.8},g);
    
    
  }
  const up=make("polygon",{points:cbL+","+cbT+" "+(cbL+cbW/2)+","+(cbT-tipH)+" "+(cbL+cbW)+","+cbT,fill:cmap(p.anchors,1)},g);
  
  
  const dn=make("polygon",{points:cbL+","+(cbT+cbH)+" "+(cbL+cbW/2)+","+(cbT+cbH+tipH)+" "+(cbL+cbW)+","+(cbT+cbH),fill:cmap(p.anchors,0)},g);
  
  
  p.ticks.forEach(function(v,i){
    const y=cS(v);
    const tk=make("line",{x1:cbL+cbW,x2:cbL+cbW+5.5,y1:y,y2:y,stroke:"#000","stroke-width":1.1},g);
    
    
    const lb=make("text",{class:"tick",x:cbL+cbW+9,y:y+7.5},g);
    lb.textContent=p.tickLabels[i];
    
    
  });
}
panels.forEach(drawPanel);
</script>
</body>
</html>
